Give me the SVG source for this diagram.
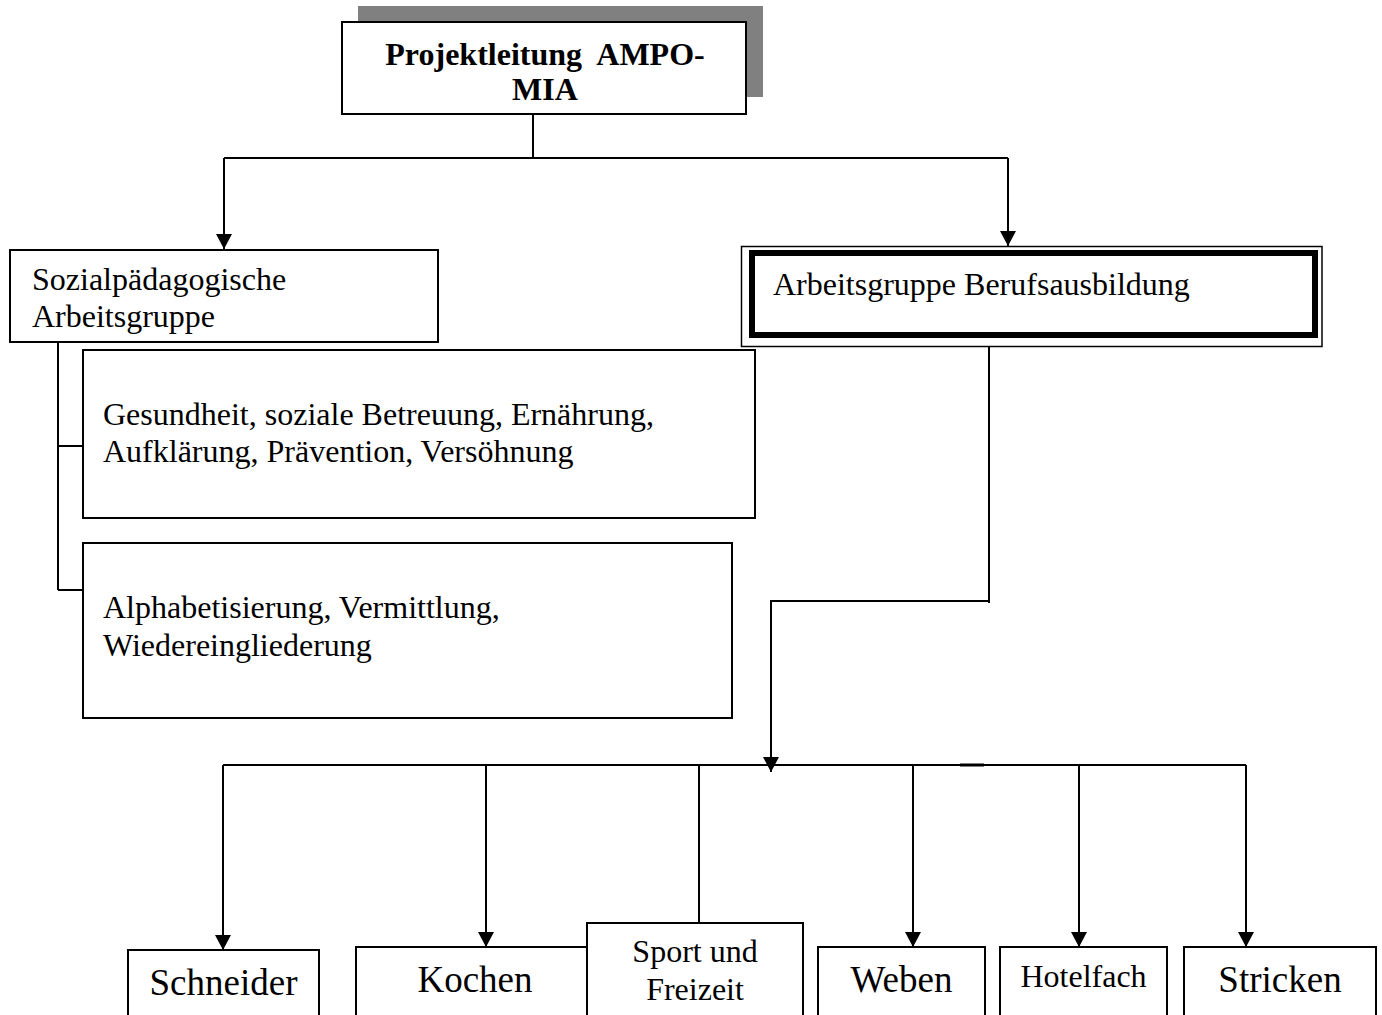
<svg xmlns="http://www.w3.org/2000/svg" width="1382" height="1015" viewBox="0 0 1382 1015">
<style>
.box{fill:#fff;stroke:#000;stroke-width:2}
.ln{fill:none;stroke:#000;stroke-width:2}
.t{font-family:"Liberation Serif","Times New Roman",serif;font-size:32px;fill:#000}
.big{font-size:37px}
.b{font-weight:bold;font-size:32px}
.m{text-anchor:middle}
</style>
<defs>
<marker id="ah" viewBox="0 0 15 16" refX="15" refY="8" markerWidth="15" markerHeight="16" markerUnits="userSpaceOnUse" orient="auto">
<path d="M0,0 L15,8 L0,16 Z" fill="#000"/>
</marker>
</defs>
<rect width="1382" height="1015" fill="#fff"/>

<g id="connectors">
<path class="ln" d="M533,114 V158"/>
<path class="ln" d="M224,158 H1008"/>
<path class="ln" d="M224,158 V249" marker-end="url(#ah)"/>
<path class="ln" d="M1008,158 V246" marker-end="url(#ah)"/>
<path class="ln" d="M58,336 V590"/>
<path class="ln" d="M58,446 H83"/>
<path class="ln" d="M58,590 H83"/>
<path class="ln" d="M989,334 V603"/>
<path class="ln" d="M771,601 H988"/>
<path class="ln" d="M771,600 V772" marker-end="url(#ah)"/>
<path class="ln" d="M223,765 H1246"/>
<path d="M960,765 H984" stroke="#000" stroke-width="3"/>
<path class="ln" d="M223,765 V950" marker-end="url(#ah)"/>
<path class="ln" d="M486,765 V947" marker-end="url(#ah)"/>
<path class="ln" d="M699,765 V923"/>
<path class="ln" d="M913,765 V947" marker-end="url(#ah)"/>
<path class="ln" d="M1079,765 V947" marker-end="url(#ah)"/>
<path class="ln" d="M1246,765 V947" marker-end="url(#ah)"/>
</g>

<g id="projektleitung">
<rect x="358" y="6" width="405" height="91" fill="#808080"/>
<rect class="box" x="342" y="22" width="404" height="92"/>
<text class="t b m" x="545" y="65" xml:space="preserve">Projektleitung  AMPO-</text>
<text class="t b m" x="545" y="100">MIA</text>
</g>

<g id="sozial">
<rect class="box" x="10" y="250" width="428" height="92"/>
<text class="t" x="32" y="290">Sozialpädagogische</text>
<text class="t" x="32" y="327">Arbeitsgruppe</text>
</g>

<g id="beruf">
<rect x="741.5" y="246.5" width="580.5" height="100" fill="#fff" stroke="#000" stroke-width="1.5"/>
<rect x="752" y="253" width="563" height="82" fill="none" stroke="#000" stroke-width="6"/>
<text class="t" x="773" y="295">Arbeitsgruppe Berufsausbildung</text>
</g>

<g id="gesundheit">
<rect class="box" x="83" y="350" width="672" height="168"/>
<text class="t" x="103" y="425">Gesundheit, soziale Betreuung, Ernährung,</text>
<text class="t" x="103" y="462">Aufklärung, Prävention, Versöhnung</text>
</g>

<g id="alphabet">
<rect class="box" x="83" y="543" width="649" height="175"/>
<text class="t" x="103" y="618">Alphabetisierung, Vermittlung,</text>
<text class="t" x="103" y="656">Wiedereingliederung</text>
</g>

<g id="schneider">
<rect class="box" x="128" y="950" width="191" height="90"/>
<text class="t big m" x="223.5" y="995">Schneider</text>
</g>

<g id="kochen">
<rect class="box" x="356" y="947" width="240" height="90"/>
<text class="t big m" x="475" y="992">Kochen</text>
</g>

<g id="sport">
<rect class="box" x="587" y="923" width="216" height="110"/>
<text class="t m" x="695" y="962">Sport und</text>
<text class="t m" x="695" y="1000">Freizeit</text>
</g>

<g id="weben">
<rect class="box" x="818" y="947" width="167" height="90"/>
<text class="t big m" x="901.5" y="992">Weben</text>
</g>

<g id="hotelfach">
<rect class="box" x="1000" y="947" width="167" height="90"/>
<text class="t m" x="1083.5" y="987">Hotelfach</text>
</g>

<g id="stricken">
<rect class="box" x="1184" y="947" width="192" height="90"/>
<text class="t big m" x="1280" y="992">Stricken</text>
</g>
</svg>
